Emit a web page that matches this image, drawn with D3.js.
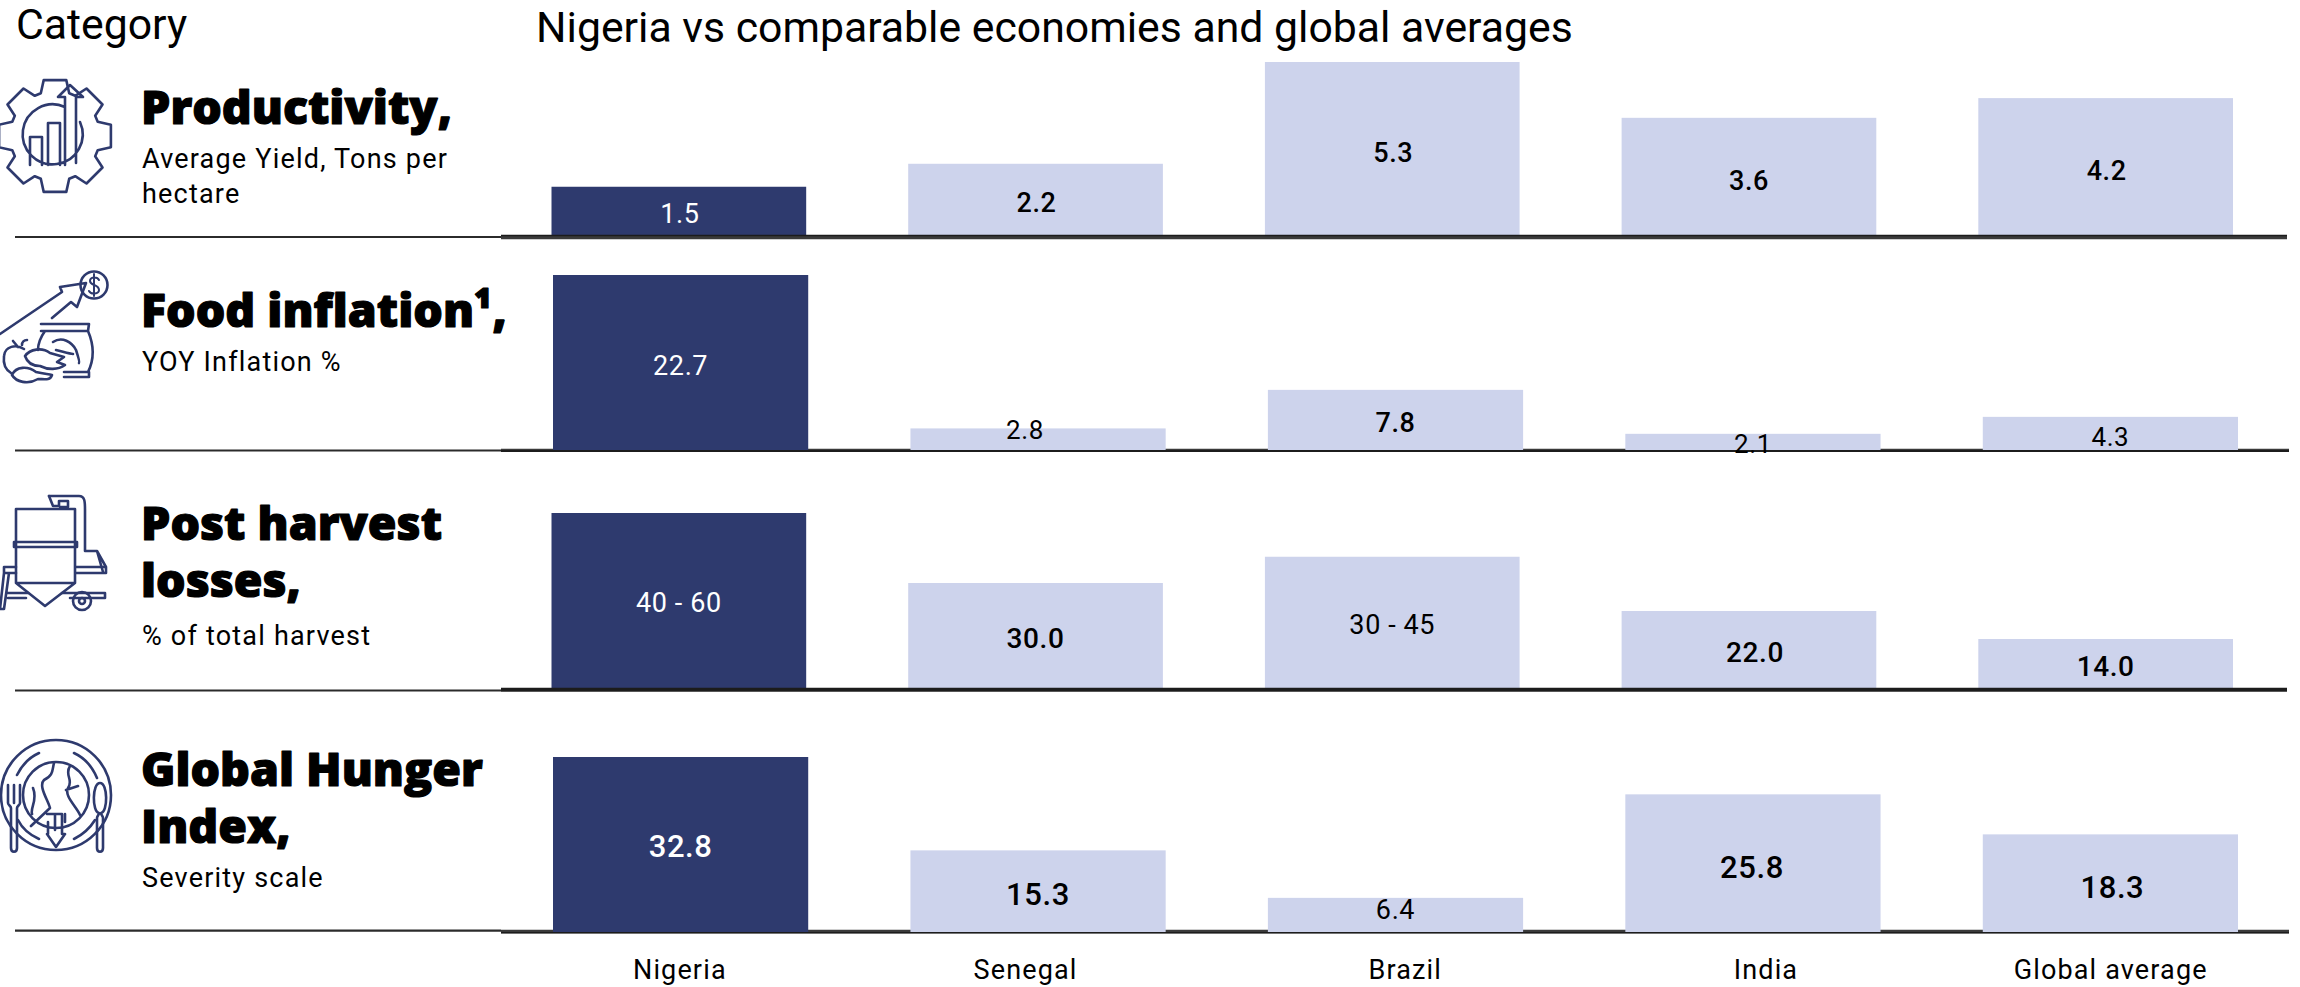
<!DOCTYPE html>
<html><head><meta charset="utf-8">
<script src="https://cdn.jsdelivr.net/npm/d3@7"></script>
<style>html,body{margin:0;padding:0;background:#fff}svg{display:block}text{font-family:Roboto,sans-serif;fill:#000}</style>
</head><body><svg id="c" width="2300" height="987"></svg>
<script>
// DATA
const categories = ["Nigeria","Senegal","Brazil","India","Global average"];
const productivity = [1.5,2.2,5.3,3.6,4.2];
const foodInflation = [22.7,2.8,7.8,2.1,4.3];
const postHarvest = [50,30,37.5,22,14];           // midpoints of the ranges shown
const postHarvestLabels = ["40 - 60","30.0","30 - 45","22.0","14.0"];
const hunger = [32.8,15.3,6.4,25.8,18.3];
const rowTitles = [["Productivity,"],["Food inflation¹,"],["Post harvest","losses,"],["Global Hunger","Index,"]];
const rowSubs = [["Average Yield, Tons per","hectare"],["YOY Inflation %"],["% of total harvest"],["Severity scale"]];
const title = "Nigeria vs comparable economies and global averages";
const corner = "Category";

// LAYOUT
const NAVY="#2e3a6e", LIGHT="#cdd3ec", INK="#2e3a6e";
const rows=[
 {v:productivity, l:productivity.map(d=>d.toFixed(1)), base:236, top:62, max:5.3, x:[551.5,2233], fs:[27,27,27,27,27], fw:[400,500,500,500,500],
  dx:[1,1,1,0,1], dy:[1,1,2,2,2], titleY:[124], subY:[168,203], leftY:237, thick:[237.5,3.5], thin:[235.5,1.5], lineEnd:2287},
 {v:foodInflation, l:foodInflation.map(d=>d.toFixed(1)), base:450, top:275, max:22.7, x:[553,2238], fs:[27,26,27,26,26], fw:[400,400,500,400,400],
  dx:[0,-13,0,0,0], dy:[1,-11,1,0,2], titleY:[327], subY:[371], leftY:450.5, thick:[450,2.5], thin:[451,2], lineEnd:2289},
 {v:postHarvest, l:postHarvestLabels, base:688, top:513, max:50, x:[551.5,2233], fs:[27,28,27,28,28], fw:[400,500,400,500,500],
  dx:[0,0,0,6,0], dy:[0,1,1,1,1], titleY:[540,597], subY:[645], leftY:690.5, thick:[690,3.5], thin:[689.5,3.5], lineEnd:2287},
 {v:hunger, l:hunger.map(d=>d.toFixed(1)), base:932, top:757, max:32.8, x:[553,2238], fs:[31,31,27,31,31], fw:[500,500,400,500,500],
  dx:[0,0,0,-1,2], dy:[0,1,-7,2,2], titleY:[786,843], subY:[887], leftY:930.7, thick:[931.5,3.5], thin:[932.7,1.5], lineEnd:2289}
];
const axisNudge=[1,-10,13,17,5];

const svg=d3.select("#c");
svg.append("text").attr("x",16).attr("y",39).attr("font-size",42.75).text(corner);
svg.append("text").attr("x",536).attr("y",42).attr("font-size",42.75).text(title);

rows.forEach((r,ri)=>{
  const x=d3.scaleBand().domain(categories).range(r.x).paddingInner(0.286);
  const y=d3.scaleLinear().domain([0,r.max]).range([r.base,r.top]);
  const g=svg.append("g");
  g.append("line").attr("x1",15).attr("x2",501).attr("y1",r.leftY).attr("y2",r.leftY).attr("stroke","#2b2b2b").attr("stroke-width",2.2);
  g.append("line").attr("x1",501).attr("x2",r.lineEnd).attr("y1",r.thick[0]).attr("y2",r.thick[0]).attr("stroke","#3a3a3a").attr("stroke-width",r.thick[1]);
  g.selectAll("rect").data(categories).join("rect")
    .attr("x",d=>x(d)).attr("width",x.bandwidth())
    .attr("y",(d,i)=>y(r.v[i])).attr("height",(d,i)=>y(0)-y(r.v[i]))
    .attr("fill",(d,i)=>i===0?NAVY:LIGHT);
  g.append("line").attr("x1",501).attr("x2",r.lineEnd).attr("y1",r.thin[0]).attr("y2",r.thin[0]).attr("stroke","#1c1c1c").attr("stroke-width",r.thin[1]);
  g.selectAll("text.v").data(categories).join("text").attr("class","v")
    .attr("text-anchor","middle").attr("dominant-baseline","central")
    .attr("x",(d,i)=>x(d)+x.bandwidth()/2+r.dx[i])
    .attr("y",(d,i)=>(y(r.v[i])+y(0))/2+r.dy[i]+2)
    .attr("font-size",(d,i)=>r.fs[i]).attr("font-weight",(d,i)=>r.fw[i]).attr("letter-spacing",0.6)
    .style("fill",(d,i)=>i===0?"#fff":"#000")
    .text((d,i)=>r.l[i]);
  rowTitles[ri].forEach((t,k)=>svg.append("text").attr("x",141).attr("y",r.titleY[k]).attr("font-size",46.5)
     .style("font-family","'Open Sans'").style("font-weight",800)
     .style("stroke","#000").style("stroke-width",1.2).style("stroke-linejoin","round").text(t));
  rowSubs[ri].forEach((t,k)=>svg.append("text").attr("x",142).attr("y",r.subY[k]).attr("font-size",27).attr("letter-spacing",1.2).text(t));
});

// Category axis
const xa=d3.scaleBand().domain(categories).range(rows[0].x).paddingInner(0.286);
const ax=svg.append("g").attr("transform","translate(0,960)")
  .call(d3.axisBottom(xa).tickSize(0).tickPadding(0));
ax.select(".domain").remove();
ax.selectAll("text").attr("font-size",27).attr("letter-spacing",1.15).attr("dy","0.71em").attr("y",0).style("font-family","Roboto").style("fill","#000")
  .attr("transform",(d,i)=>`translate(${axisNudge[i]},0)`);

// ICONS (decorative line art)
const ic=svg.append("g").attr("fill","none").attr("stroke",INK).attr("stroke-width",2.6).attr("stroke-linejoin","round").attr("stroke-linecap","round");
(function(){
  const cx=55,cy=136,n=8,ro=57,ri=45,pts=[];
  for(let i=0;i<n;i++){
    const a=i*2*Math.PI/n-Math.PI/2, w=0.2, w2=0.3;
    pts.push([ri,a-w2-0.02],[ro,a-w],[ro,a+w],[ri,a+w2+0.02]);
  }
  const d=pts.map((p,i)=>(i?"L":"M")+(cx+p[0]*Math.cos(p[1])).toFixed(1)+" "+(cy+p[0]*Math.sin(p[1])).toFixed(1)).join("")+"Z";
  ic.append("path").attr("d",d);
  ic.append("path").attr("d","M65 107A30 30 0 1 0 80 122M30 165V137H42V165M48 165V123H60V165M65 165V97H58L70 85L83 97H76V163");
})();
// food inflation
ic.append("circle").attr("cx",94).attr("cy",285).attr("r",13.5);
ic.append("path").attr("d","M99 280C97 276 90 277 90 281C90 286 99 284 99 290C99 294 91 295 89 291M94 274V296").attr("stroke-width",2);
ic.append("path").attr("d","M0 334L62 292L60 287L86 283L77 307L71 302L52 318");
ic.append("path").attr("d","M41 324H89L88 331C94 345 94 360 88 372M41 331H88M45 331C40 338 38 345 38 350M64 372H89V377H64M53 342C62 336 72 342 76 350C78 356 80 362 79 363M56 350C64 352 70 354 73 354");
ic.append("path").attr("d","M25 356C30 349 42 347 50 353L64 357L57 362L65 365C58 370 48 370 40 366C32 366 27 362 25 356Z");
ic.append("path").attr("d","M24 349C16 344 5 346 4 356C3 364 6 370 11 373M18 347L13 341M22 345C22 342 24 340 27 340M12 375C16 366 28 366 36 372C44 374 48 374 52 375C50 381 44 379 38 379C28 385 16 382 12 375");
// post harvest
ic.append("path").attr("d","M16 509H75V583L45 606L16 583ZM14 542H77V547H14ZM16 583H75");
ic.append("path").attr("d","M49 496H79C85 496 85 502 85 510V551H97L106 567V573H76M97 551L103 572M76 567H106M16 567H4V573H16M4 573L0 609H4L9 573M8 593H28M62 593H105V598H70M8 598H26");
ic.append("path").attr("d","M49 496L53 506H59V501H68V507H60");
ic.append("circle").attr("cx",82).attr("cy",601).attr("r",9);
ic.append("circle").attr("cx",82).attr("cy",601).attr("r",3);
// hunger
ic.append("circle").attr("cx",56).attr("cy",795).attr("r",55);
ic.append("circle").attr("cx",56).attr("cy",795).attr("r",33);
ic.append("path").attr("d","M17 775C22 765 30 757 39 753M74 753C85 758 92 766 97 778M18 820C23 830 30 835 39 839M74 839C84 834 90 828 95 820");
ic.append("path").attr("d","M8 785V803C8 805 11 806 11 808V848C11 853 17 853 17 848V808C17 806 20 805 20 803V785M14 785V803");
ic.append("path").attr("d","M100 783C108 783 108 812 101 813C101 815 103 816 103 818V848C103 853 97 853 97 848V818C97 816 99 815 99 813C92 812 92 783 100 783Z");
ic.append("path").attr("d","M54 763C52 770 54 775 44 780C38 786 48 800 50 808L31 826M33 788C38 800 30 808 32 814M70 766C64 775 74 780 68 788C64 796 76 806 80 815M66 790L78 786M48 822V834H47L56 847L65 834H62V814H47M55 814V830M65 814V822");
</script></body></html>
